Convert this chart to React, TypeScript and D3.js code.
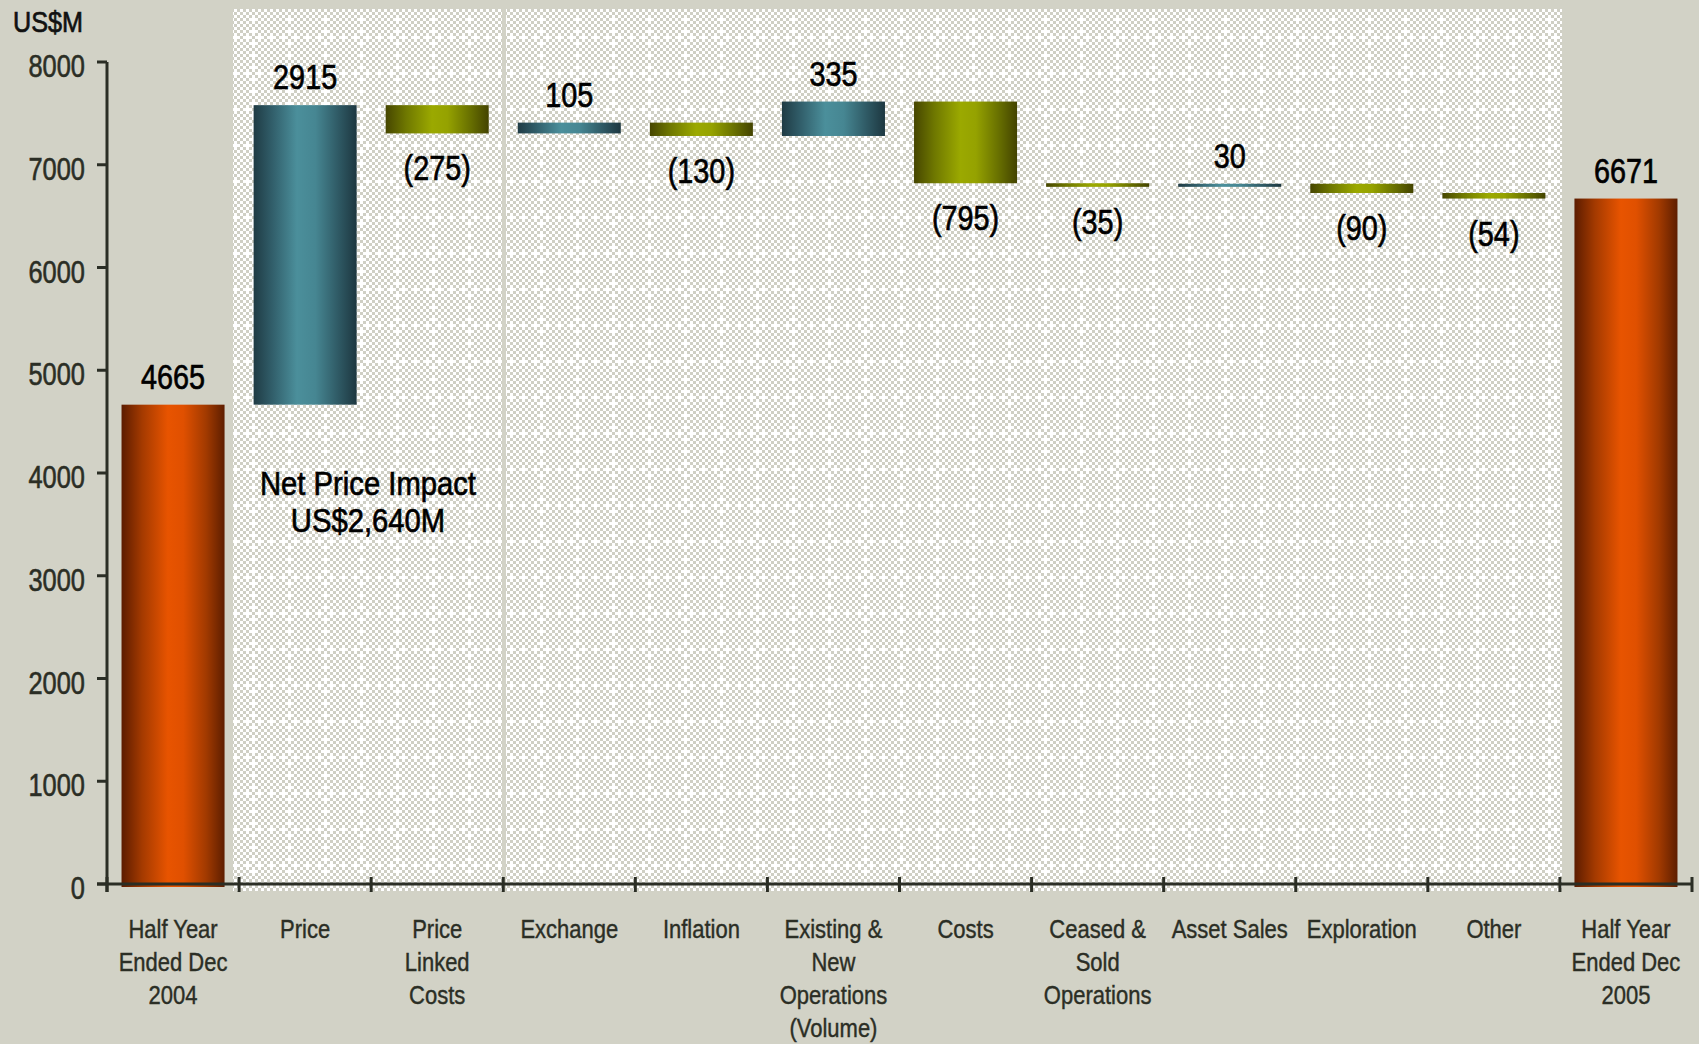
import React from "react";
import * as d3 from "d3";

// ---- data ----
const categoryLines: string[][] = [
  ["Half Year", "Ended Dec", "2004"],
  ["Price"],
  ["Price", "Linked", "Costs"],
  ["Exchange"],
  ["Inflation"],
  ["Existing &", "New", "Operations", "(Volume)"],
  ["Costs"],
  ["Ceased &", "Sold", "Operations"],
  ["Asset Sales"],
  ["Exploration"],
  ["Other"],
  ["Half Year", "Ended Dec", "2005"],
];
const startValue = 4665;
const changes = [2915, -275, 105, -130, 335, -795, -35, 30, -90, -54];
const endValue = 6671;
const yTicks = [0, 1000, 2000, 3000, 4000, 5000, 6000, 7000, 8000];
const axisTitle = "US$M";
const noteLines = ["Net Price Impact", "US$2,640M"];

// ---- layout ----
const W = 1699;
const H = 1044;
const X0 = 107;
const X1 = 1692;
const Y0 = 884;
const Y8 = 62;
const BG = "#d2d2c6";
const AXIS = "#2b2e25";
const FONT = "'Liberation Sans', Arial, sans-serif";

type Bar = { i: number; lo: number; hi: number; kind: "total" | "up" | "down"; label: string };

function buildBars(): Bar[] {
  const bars: Bar[] = [];
  bars.push({ i: 0, lo: 0, hi: startValue, kind: "total", label: String(startValue) });
  let cum = startValue;
  changes.forEach((c, k) => {
    const next = cum + c;
    bars.push({
      i: k + 1,
      lo: Math.min(cum, next),
      hi: Math.max(cum, next),
      kind: c >= 0 ? "up" : "down",
      label: c >= 0 ? String(c) : `(${Math.abs(c)})`,
    });
    cum = next;
  });
  bars.push({ i: changes.length + 1, lo: 0, hi: endValue, kind: "total", label: String(endValue) });
  return bars;
}

function CText(props: {
  x: number; y: number; sx: number; size: number; fill: string; sw?: number;
  anchor?: "start" | "middle" | "end"; children: React.ReactNode;
}) {
  const { x, y, sx, size, fill, sw = 0, anchor = "middle", children } = props;
  return (
    <text
      transform={`translate(${x},${y}) scale(${sx},1)`}
      textAnchor={anchor}
      fontFamily={FONT}
      fontSize={size}
      fill={fill}
      stroke={sw > 0 ? fill : "none"}
      strokeWidth={sw}
    >
      {children}
    </text>
  );
}

export default function App() {
  const idx = categoryLines.map((_, i) => String(i));
  const x = d3.scaleBand<string>().domain(idx).range([X0, X1]).paddingInner(0.22).paddingOuter(0.11);
  const y = d3.scaleLinear().domain([0, 8000]).range([Y0, Y8]);
  const step = x.step();
  const bars = buildBars();
  const fillFor = (k: Bar["kind"]) =>
    k === "total" ? "url(#gOrange)" : k === "up" ? "url(#gTeal)" : "url(#gOlive)";

  const boundaries = d3.range(0, categoryLines.length + 1).map((i) => X0 + i * step);
  const cells = d3.range(0, 12);

  return (
    <svg
      width={W}
      height={H}
      style={{ position: "absolute", left: 0, top: 0, display: "block" }}
    >
      <defs>
        <pattern id="checker" width="36" height="36" patternUnits="userSpaceOnUse" x="0" y="0">
          <rect width="36" height="36" fill="#ffffff" />
          {cells.flatMap((r) =>
            cells.map((c) => {
              if ((r + c) % 2 !== 0) return null;
              // dashed white grid lines on row 0 / column 0
              if ((r === 0 || c === 0) && (r + c) % 4 !== 0) return null;
              return <rect key={`${r}-${c}`} x={c * 3} y={r * 3} width="3" height="3" fill="#cfcfc4" />;
            })
          )}
        </pattern>
        <linearGradient id="gOrange" x1="0" x2="1" y1="0" y2="0">
          <stop offset="0" stopColor="#5c1c00" />
          <stop offset="0.2" stopColor="#a43a00" />
          <stop offset="0.45" stopColor="#e85400" />
          <stop offset="0.6" stopColor="#e05000" />
          <stop offset="0.82" stopColor="#a23a00" />
          <stop offset="1" stopColor="#5e1e00" />
        </linearGradient>
        <linearGradient id="gTeal" x1="0" x2="1" y1="0" y2="0">
          <stop offset="0" stopColor="#1f3b44" />
          <stop offset="0.18" stopColor="#315e6a" />
          <stop offset="0.42" stopColor="#4b8f9b" />
          <stop offset="0.6" stopColor="#468692" />
          <stop offset="0.82" stopColor="#2f5a65" />
          <stop offset="1" stopColor="#1d3740" />
        </linearGradient>
        <linearGradient id="gOlive" x1="0" x2="1" y1="0" y2="0">
          <stop offset="0" stopColor="#464600" />
          <stop offset="0.2" stopColor="#6f7800" />
          <stop offset="0.45" stopColor="#9ba900" />
          <stop offset="0.6" stopColor="#95a200" />
          <stop offset="0.82" stopColor="#687000" />
          <stop offset="1" stopColor="#434300" />
        </linearGradient>
      </defs>

      <rect x={0} y={0} width={W} height={H} fill={BG} />

      {/* patterned plot panel */}
      <rect x={233} y={9} width={1562 - 233} height={891 - 9} fill="url(#checker)" />
      <rect x={502} y={9} width={4} height={891 - 9} fill={BG} />

      {/* bars */}
      {bars.map((b) => (
        <rect
          key={b.i}
          x={x(String(b.i))!}
          y={y(b.hi)}
          width={x.bandwidth()}
          height={Math.max(1, y(b.lo) - y(b.hi)) + (b.kind === "total" ? 3 : 0)}
          fill={fillFor(b.kind)}
        />
      ))}

      {/* value labels */}
      {bars.map((b) => {
        const cx = x(String(b.i))! + x.bandwidth() / 2;
        const ly = b.kind === "down" ? y(b.lo) + 47 : y(b.hi) - 16;
        return (
          <CText key={`l${b.i}`} x={cx} y={ly} sx={0.8} size={36} fill="#000" sw={0.7}>
            {b.label}
          </CText>
        );
      })}

      {/* note */}
      {noteLines.map((t, k) => (
        <CText key={`n${k}`} x={368} y={495 + k * 37} sx={0.86} size={34} fill="#000" sw={0.7}>
          {t}
        </CText>
      ))}

      {/* y axis */}
      <line x1={X0} x2={X0} y1={y(8000)} y2={892} stroke={AXIS} strokeWidth={3} />
      {yTicks.map((t) => (
        <g key={`yt${t}`}>
          <line x1={97} x2={X0} y1={y(t)} y2={y(t)} stroke={AXIS} strokeWidth={3} />
          <CText x={85} y={y(t) + 15} sx={0.82} size={31} fill={AXIS} anchor="end" sw={0.6}>
            {t}
          </CText>
        </g>
      ))}

      {/* x axis */}
      <line x1={97} x2={X1} y1={Y0} y2={Y0} stroke={AXIS} strokeWidth={3} />
      {boundaries.map((bx, i) => (
        <line key={`xt${i}`} x1={bx} x2={bx} y1={877} y2={892} stroke={AXIS} strokeWidth={3} />
      ))}
      {categoryLines.map((lines, i) => {
        const cx = x(String(i))! + x.bandwidth() / 2;
        return lines.map((ln, k) => (
          <CText key={`c${i}-${k}`} x={cx} y={938 + k * 33} sx={0.88} size={25} fill={AXIS} sw={0.4}>
            {ln}
          </CText>
        ));
      })}

      {/* axis title */}
      <CText x={13} y={32} sx={0.84} size={30} fill="#111" anchor="start" sw={0.7}>
        {axisTitle}
      </CText>
    </svg>
  );
}
